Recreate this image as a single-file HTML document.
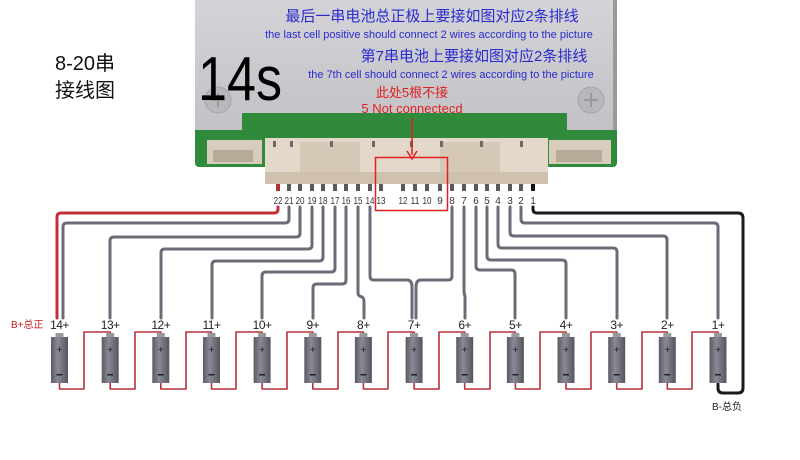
<!DOCTYPE html>
<html><head><meta charset="utf-8"><style>
html,body{margin:0;padding:0;background:#fff;width:800px;height:460px;overflow:hidden}
svg{display:block}
text{font-family:"Liberation Sans","Noto Sans CJK SC",sans-serif}
</style></head><body>
<svg width="800" height="460" viewBox="0 0 800 460" xmlns="http://www.w3.org/2000/svg">
<defs>
<linearGradient id="bat" x1="0" x2="1" y1="0" y2="0">
<stop offset="0" stop-color="#5a5a66"/><stop offset="0.4" stop-color="#8a8a96"/><stop offset="1" stop-color="#55555f"/>
</linearGradient>
<linearGradient id="plate" x1="0" x2="0" y1="0" y2="1">
<stop offset="0" stop-color="#d4d4d8"/><stop offset="1" stop-color="#c2c2c6"/>
</linearGradient>
</defs>

<text x="55" y="70" font-size="20" fill="#111">8-20串</text>
<text x="55" y="97" font-size="20" fill="#111">接线图</text>

<rect x="195" y="100" width="422" height="67" rx="4" fill="#2f8a3c"/>
<path d="M195 0 H617 V130 H567 V113 H242 V130 H195 Z" fill="url(#plate)"/>
<rect x="613" y="0" width="4" height="130" fill="#9a9a9e"/>
<circle cx="218" cy="100" r="13" fill="#b8b8bc" stroke="#a4a4a8"/>
<circle cx="591" cy="100" r="13" fill="#b8b8bc" stroke="#a4a4a8"/>
<path d="M211 100 H225 M218 93 V107 M584 100 H598 M591 93 V107" stroke="#9a9a9e" stroke-width="2"/>

<text x="198" y="100" font-size="62" fill="#000" textLength="84" lengthAdjust="spacingAndGlyphs">14s</text>
<text x="432" y="21" font-size="15" fill="#2a2ad0" text-anchor="middle">最后一串电池总正极上要接如图对应2条排线</text>
<text x="429" y="38" font-size="11" fill="#2a2ad0" text-anchor="middle">the last cell positive should connect 2 wires according to the picture</text>
<text x="474" y="61" font-size="15" fill="#2a2ad0" text-anchor="middle">第7串电池上要接如图对应2条排线</text>
<text x="451" y="78" font-size="11" fill="#2a2ad0" text-anchor="middle">the 7th cell should connect 2 wires according to the picture</text>
<text x="412" y="97" font-size="13" fill="#e02020" text-anchor="middle">此处5根不接</text>
<text x="412" y="113" font-size="13" fill="#e02020" text-anchor="middle">5 Not connectecd</text>

<rect x="207" y="140" width="55" height="24" fill="#d8ccbc"/>
<rect x="549" y="140" width="62" height="24" fill="#d8ccbc"/>
<rect x="213" y="150" width="40" height="12" fill="#b8aa98"/>
<rect x="556" y="150" width="46" height="12" fill="#b8aa98"/>
<rect x="265" y="138" width="283" height="46" fill="#e4d8ca"/>
<rect x="300" y="142" width="60" height="40" fill="#d6c8b6"/>
<rect x="440" y="142" width="60" height="40" fill="#d6c8b6"/>
<rect x="265" y="172" width="283" height="12" fill="#cfc1ae"/>
<g fill="#6a6a6a">
<rect x="273" y="141" width="3" height="6"/><rect x="290" y="141" width="3" height="6"/><rect x="330" y="141" width="3" height="6"/><rect x="372" y="141" width="3" height="6"/><rect x="410" y="141" width="3" height="6"/><rect x="440" y="141" width="3" height="6"/><rect x="480" y="141" width="3" height="6"/><rect x="520" y="141" width="3" height="6"/>
</g>

<line x1="412" y1="118" x2="412" y2="155" stroke="#e02020" stroke-width="1.5"/>
<path d="M407 151 L412 159 L417 151" fill="none" stroke="#e02020" stroke-width="1.5"/>
<rect x="375.5" y="157.5" width="72" height="53" fill="none" stroke="#e02020" stroke-width="1.5"/>

<g fill="#5a5a5a">
<rect x="276" y="184" width="4" height="7" fill="#b03030"/>
<rect x="287" y="184" width="4" height="7"/><rect x="298" y="184" width="4" height="7"/><rect x="310" y="184" width="4" height="7"/><rect x="321" y="184" width="4" height="7"/><rect x="333" y="184" width="4" height="7"/><rect x="344" y="184" width="4" height="7"/><rect x="356" y="184" width="4" height="7"/><rect x="368" y="184" width="4" height="7"/><rect x="379" y="184" width="4" height="7"/><rect x="401" y="184" width="4" height="7"/><rect x="413" y="184" width="4" height="7"/><rect x="425" y="184" width="4" height="7"/><rect x="438" y="184" width="4" height="7"/><rect x="450" y="184" width="4" height="7"/><rect x="462" y="184" width="4" height="7"/><rect x="474" y="184" width="4" height="7"/><rect x="485" y="184" width="4" height="7"/><rect x="496" y="184" width="4" height="7"/><rect x="508" y="184" width="4" height="7"/><rect x="519" y="184" width="4" height="7"/>
<rect x="531" y="184" width="4" height="7" fill="#111"/>
</g>
<g font-size="10" fill="#333" text-anchor="middle">
<text x="278" y="204" textLength="9" lengthAdjust="spacingAndGlyphs">22</text><text x="289" y="204" textLength="9" lengthAdjust="spacingAndGlyphs">21</text><text x="300" y="204" textLength="9" lengthAdjust="spacingAndGlyphs">20</text><text x="312" y="204" textLength="9" lengthAdjust="spacingAndGlyphs">19</text><text x="323" y="204" textLength="9" lengthAdjust="spacingAndGlyphs">18</text><text x="335" y="204" textLength="9" lengthAdjust="spacingAndGlyphs">17</text><text x="346" y="204" textLength="9" lengthAdjust="spacingAndGlyphs">16</text><text x="358" y="204" textLength="9" lengthAdjust="spacingAndGlyphs">15</text><text x="370" y="204" textLength="9" lengthAdjust="spacingAndGlyphs">14</text><text x="381" y="204" textLength="9" lengthAdjust="spacingAndGlyphs">13</text><text x="403" y="204" textLength="9" lengthAdjust="spacingAndGlyphs">12</text><text x="415" y="204" textLength="9" lengthAdjust="spacingAndGlyphs">11</text><text x="427" y="204" textLength="9" lengthAdjust="spacingAndGlyphs">10</text><text x="440" y="204">9</text><text x="452" y="204">8</text><text x="464" y="204">7</text><text x="476" y="204">6</text><text x="487" y="204">5</text><text x="498" y="204">4</text><text x="510" y="204">3</text><text x="521" y="204">2</text><text x="533" y="204">1</text>
</g>

<g fill="none" stroke-width="3" stroke-linejoin="round" stroke-linecap="round">
<path d="M278 207 V209 Q278 213 274 213 H61 Q57 213 57 217 V318" stroke="#c0303a"/>
<g stroke="#6c6c78">
<path d="M289 207 V219 Q289 223 285 223 H67 Q63 223 63 227 V318"/>
<path d="M300 207 V233 Q300 237 296 237 H114 Q110 237 110 241 V318"/>
<path d="M312 207 V245 Q312 249 308 249 H165 Q161 249 161 253 V318"/>
<path d="M323 207 V257 Q323 261 319 261 H216 Q212 261 212 265 V318"/>
<path d="M335 207 V268 Q335 272 331 272 H266 Q262 272 262 276 V318"/>
<path d="M346 207 V280 Q346 284 342 284 H317 Q313 284 313 288 V318"/>
<path d="M358 207 V293 Q358 296 362 297 Q364 298 364 302 V318"/>
<path d="M370 207 V276 Q370 280 374 280 H407 Q412 280 412 287 V318"/>
<path d="M452 207 V276 Q452 280 448 280 H421 Q416 280 416 287 V318"/>
<path d="M464 207 V290 Q464 294 465 296 V318"/>
<path d="M476 207 V266 Q476 270 480 270 H511 Q515 270 515 274 V318"/>
<path d="M487 207 V256 Q487 260 491 260 H562 Q566 260 566 264 V318"/>
<path d="M498 207 V244 Q498 248 502 248 H613 Q617 248 617 252 V318"/>
<path d="M510 207 V232 Q510 236 514 236 H663 Q667 236 667 240 V318"/>
<path d="M521 207 V219 Q521 223 525 223 H714 Q718 223 718 227 V318"/>
</g>
<path d="M533 207 V209 Q533 213 537 213 H738 Q743 213 743 218 V388 Q743 393 738 393 H723 Q718 393 718 388 V384" stroke="#1a1a1a"/>
</g>

<g fill="none" stroke="#b8303a" stroke-width="1.6" stroke-linejoin="round">
<path d="M59.5 383 V389 H84 V332 H110.2 V336"/>
<path d="M110.2 383 V389 H135 V332 H160.8 V336"/>
<path d="M160.8 383 V389 H186 V332 H211.5 V336"/>
<path d="M211.5 383 V389 H236 V332 H262.1 V336"/>
<path d="M262.1 383 V389 H287 V332 H312.8 V336"/>
<path d="M312.8 383 V389 H338 V332 H363.4 V336"/>
<path d="M363.4 383 V389 H388 V332 H414.1 V336"/>
<path d="M414.1 383 V389 H439 V332 H464.7 V336"/>
<path d="M464.7 383 V389 H490 V332 H515.4 V336"/>
<path d="M515.4 383 V389 H540 V332 H566 V336"/>
<path d="M566 383 V389 H591 V332 H616.7 V336"/>
<path d="M616.7 383 V389 H642 V332 H667.3 V336"/>
<path d="M667.3 383 V389 H692 V332 H718 V336"/>
</g>

<g>
<g transform="translate(59.5,0)"><rect x="-4" y="333" width="8" height="5" fill="#999"/><rect x="-8.5" y="337" width="17" height="46" fill="url(#bat)"/><text x="0" y="353" font-size="10" fill="#222" text-anchor="middle">+</text><rect x="-3" y="374" width="6" height="1.5" fill="#222"/></g>
<g transform="translate(110.2,0)"><rect x="-4" y="333" width="8" height="5" fill="#999"/><rect x="-8.5" y="337" width="17" height="46" fill="url(#bat)"/><text x="0" y="353" font-size="10" fill="#222" text-anchor="middle">+</text><rect x="-3" y="374" width="6" height="1.5" fill="#222"/></g>
<g transform="translate(160.8,0)"><rect x="-4" y="333" width="8" height="5" fill="#999"/><rect x="-8.5" y="337" width="17" height="46" fill="url(#bat)"/><text x="0" y="353" font-size="10" fill="#222" text-anchor="middle">+</text><rect x="-3" y="374" width="6" height="1.5" fill="#222"/></g>
<g transform="translate(211.5,0)"><rect x="-4" y="333" width="8" height="5" fill="#999"/><rect x="-8.5" y="337" width="17" height="46" fill="url(#bat)"/><text x="0" y="353" font-size="10" fill="#222" text-anchor="middle">+</text><rect x="-3" y="374" width="6" height="1.5" fill="#222"/></g>
<g transform="translate(262.1,0)"><rect x="-4" y="333" width="8" height="5" fill="#999"/><rect x="-8.5" y="337" width="17" height="46" fill="url(#bat)"/><text x="0" y="353" font-size="10" fill="#222" text-anchor="middle">+</text><rect x="-3" y="374" width="6" height="1.5" fill="#222"/></g>
<g transform="translate(312.8,0)"><rect x="-4" y="333" width="8" height="5" fill="#999"/><rect x="-8.5" y="337" width="17" height="46" fill="url(#bat)"/><text x="0" y="353" font-size="10" fill="#222" text-anchor="middle">+</text><rect x="-3" y="374" width="6" height="1.5" fill="#222"/></g>
<g transform="translate(363.4,0)"><rect x="-4" y="333" width="8" height="5" fill="#999"/><rect x="-8.5" y="337" width="17" height="46" fill="url(#bat)"/><text x="0" y="353" font-size="10" fill="#222" text-anchor="middle">+</text><rect x="-3" y="374" width="6" height="1.5" fill="#222"/></g>
<g transform="translate(414.1,0)"><rect x="-4" y="333" width="8" height="5" fill="#999"/><rect x="-8.5" y="337" width="17" height="46" fill="url(#bat)"/><text x="0" y="353" font-size="10" fill="#222" text-anchor="middle">+</text><rect x="-3" y="374" width="6" height="1.5" fill="#222"/></g>
<g transform="translate(464.7,0)"><rect x="-4" y="333" width="8" height="5" fill="#999"/><rect x="-8.5" y="337" width="17" height="46" fill="url(#bat)"/><text x="0" y="353" font-size="10" fill="#222" text-anchor="middle">+</text><rect x="-3" y="374" width="6" height="1.5" fill="#222"/></g>
<g transform="translate(515.4,0)"><rect x="-4" y="333" width="8" height="5" fill="#999"/><rect x="-8.5" y="337" width="17" height="46" fill="url(#bat)"/><text x="0" y="353" font-size="10" fill="#222" text-anchor="middle">+</text><rect x="-3" y="374" width="6" height="1.5" fill="#222"/></g>
<g transform="translate(566,0)"><rect x="-4" y="333" width="8" height="5" fill="#999"/><rect x="-8.5" y="337" width="17" height="46" fill="url(#bat)"/><text x="0" y="353" font-size="10" fill="#222" text-anchor="middle">+</text><rect x="-3" y="374" width="6" height="1.5" fill="#222"/></g>
<g transform="translate(616.7,0)"><rect x="-4" y="333" width="8" height="5" fill="#999"/><rect x="-8.5" y="337" width="17" height="46" fill="url(#bat)"/><text x="0" y="353" font-size="10" fill="#222" text-anchor="middle">+</text><rect x="-3" y="374" width="6" height="1.5" fill="#222"/></g>
<g transform="translate(667.3,0)"><rect x="-4" y="333" width="8" height="5" fill="#999"/><rect x="-8.5" y="337" width="17" height="46" fill="url(#bat)"/><text x="0" y="353" font-size="10" fill="#222" text-anchor="middle">+</text><rect x="-3" y="374" width="6" height="1.5" fill="#222"/></g>
<g transform="translate(718,0)"><rect x="-4" y="333" width="8" height="5" fill="#999"/><rect x="-8.5" y="337" width="17" height="46" fill="url(#bat)"/><text x="0" y="353" font-size="10" fill="#222" text-anchor="middle">+</text><rect x="-3" y="374" width="6" height="1.5" fill="#222"/></g>
</g>

<g font-size="12" fill="#222" text-anchor="middle" letter-spacing="-0.5">
<text x="59.5" y="329">14+</text><text x="110.2" y="329">13+</text><text x="160.8" y="329">12+</text><text x="211.5" y="329">11+</text><text x="262.1" y="329">10+</text><text x="312.8" y="329">9+</text><text x="363.4" y="329">8+</text><text x="414.1" y="329">7+</text><text x="464.7" y="329">6+</text><text x="515.4" y="329">5+</text><text x="566" y="329">4+</text><text x="616.7" y="329">3+</text><text x="667.3" y="329">2+</text><text x="718" y="329">1+</text>
</g>
<text x="11" y="328" font-size="10" fill="#c02020">B+总正</text>
<text x="712" y="410" font-size="10" fill="#222">B-总负</text>
</svg>
</body></html>
